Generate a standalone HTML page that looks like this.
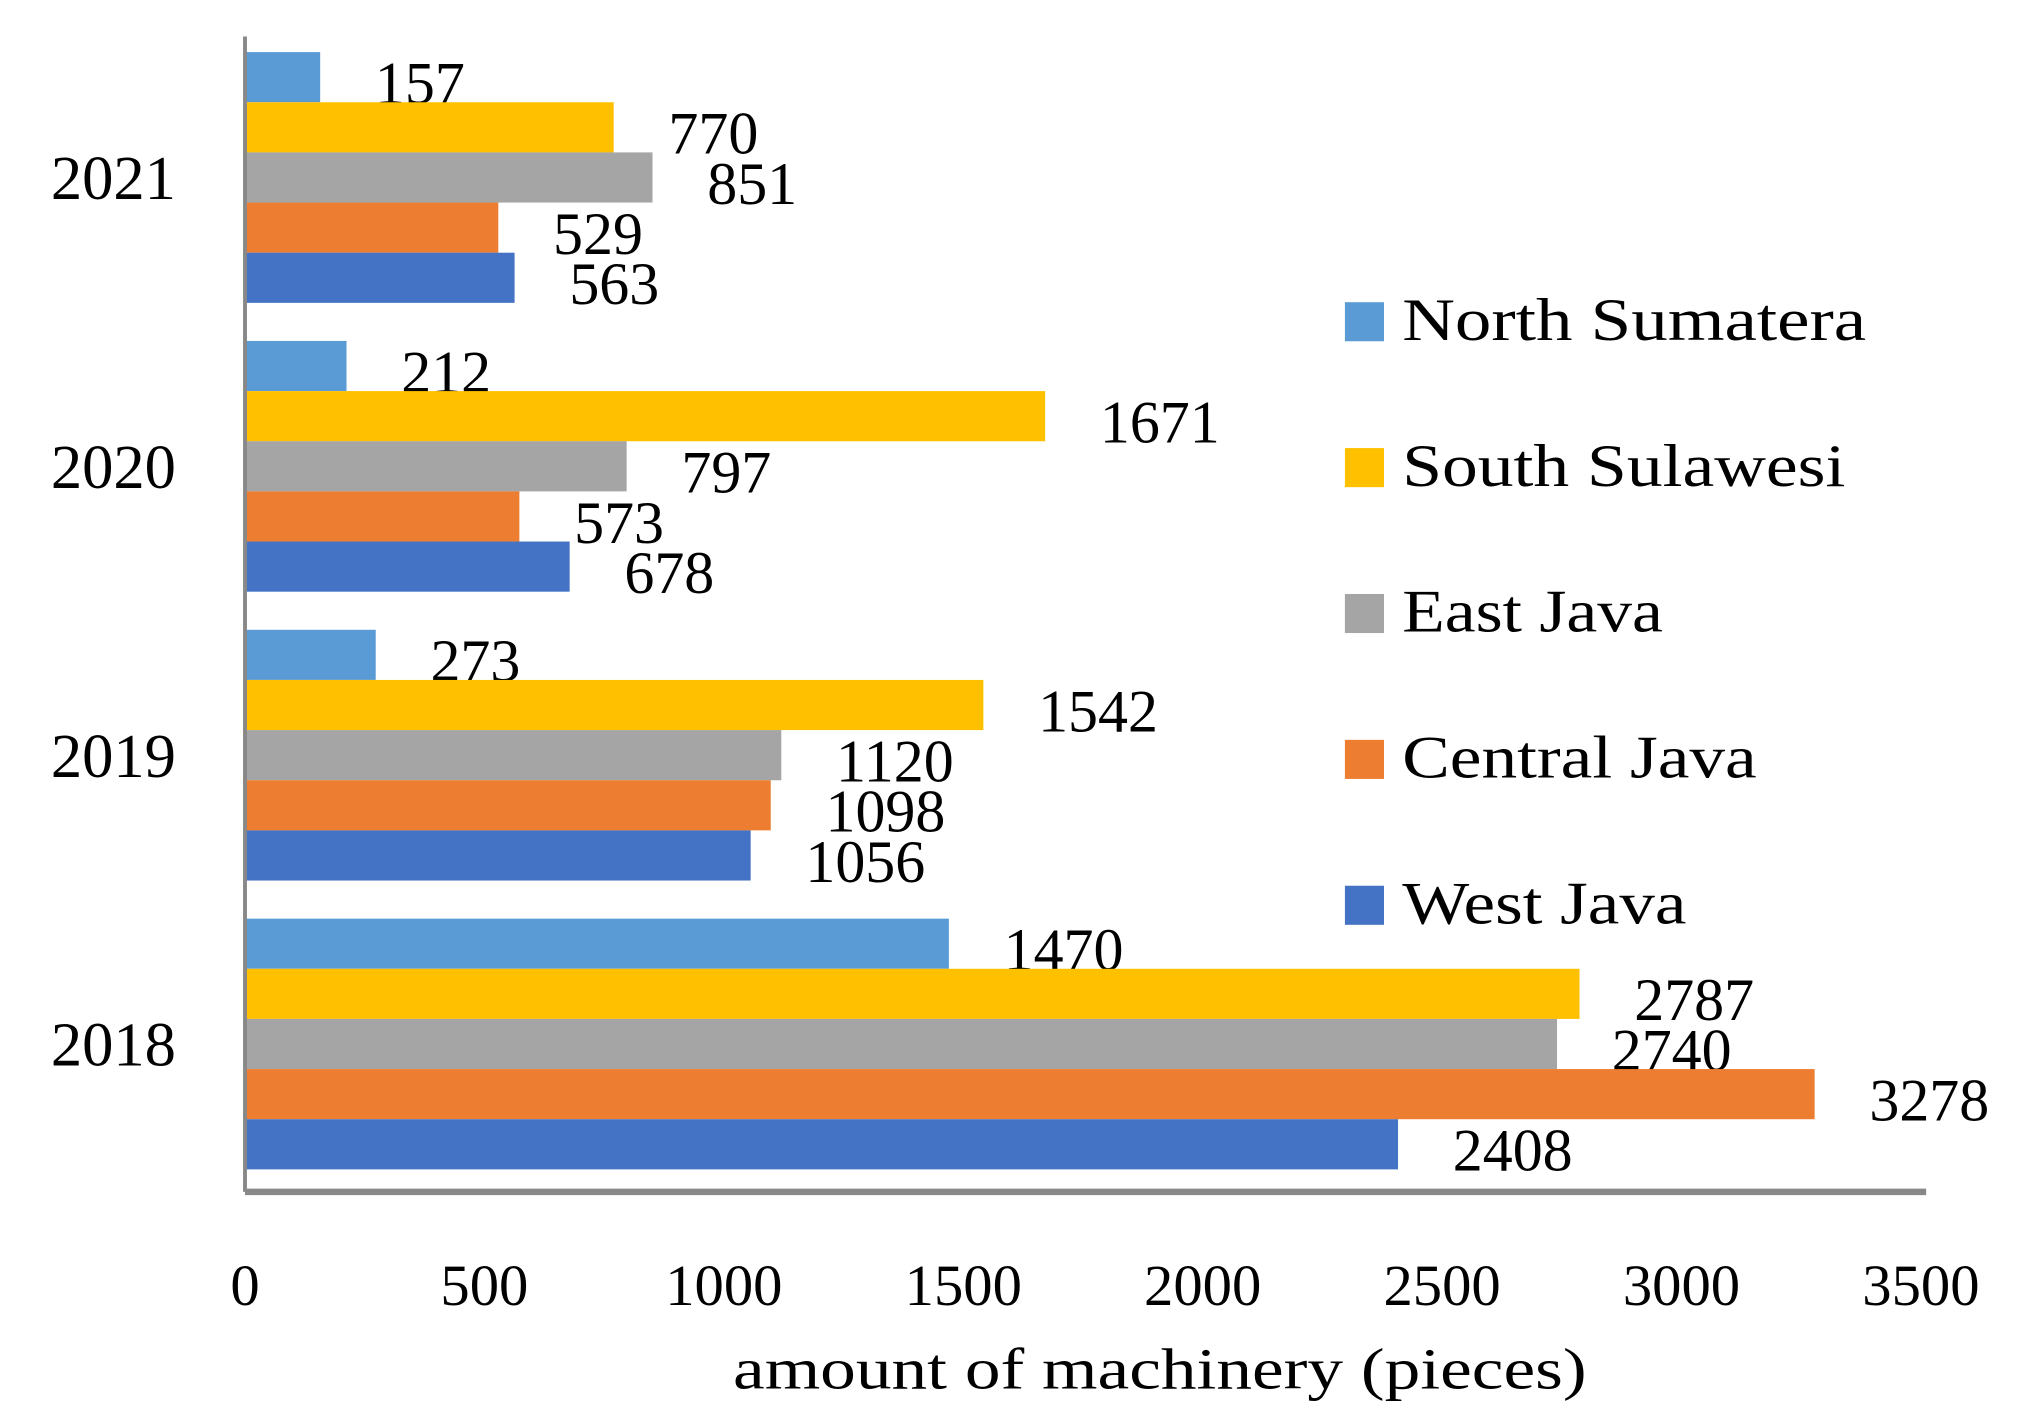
<!DOCTYPE html>
<html><head><meta charset="utf-8"><style>
html,body{margin:0;padding:0;background:#fff;}
svg{display:block;font-family:"Liberation Serif",serif;}
</style></head><body>
<svg id="chart" width="2033" height="1425" viewBox="0 0 1560 1094" preserveAspectRatio="none" xmlns="http://www.w3.org/2000/svg"></svg>
<script>
const categories = ["2021","2020","2019","2018"];
const seriesNames = ["North Sumatera","South Sulawesi","East Java","Central Java","West Java"];
const northSumatera = [157,212,273,1470];
const southSulawesi = [770,1671,1542,2787];
const eastJava = [851,797,1120,2740];
const centralJava = [529,573,1098,3278];
const westJava = [563,678,1056,2408];
const xTicks = [0,500,1000,1500,2000,2500,3000,3500];
const seriesValues = [northSumatera,southSulawesi,eastJava,centralJava,westJava];
const colors = ["#5B9BD5","#FFC000","#A5A5A5","#ED7D31","#4472C4"];
const NS="http://www.w3.org/2000/svg";
const svg=document.getElementById('chart');
const x0=188,x1=1474,yTop=28,yBot=915;
const xMax=3500;
function xs(v){return x0+(x1-x0)*v/xMax;}
const band=(yBot-yTop)/categories.length;
const barH=38.5;
function mk(t,a,p){const e=document.createElementNS(NS,t);for(const k in a)e.setAttribute(k,a[k]);(p||svg).appendChild(e);return e;}
categories.forEach((c,i)=>{
  const g=mk('g',{});
  
  
  const top=yTop+band*i+12;
  seriesValues.forEach((arr,s)=>{
    const v=arr[i];
    const y=top+barH*s;
    const r=mk('rect',{x:x0,y:y,width:xs(v)-x0,height:barH,fill:colors[s]},g);
    
    
    const t=mk('text',{x:xs(v)+42,y:y+barH+1,'font-size':46,fill:'#000'},g);
    t.textContent=v;
    
    
  });
  const l=mk('text',{x:135,y:top+band/2-12+14,'font-size':48,'text-anchor':'end',fill:'#000'});
  l.textContent=c;
  
  
});
const ya=mk('line',{x1:x0,y1:yTop,x2:x0,y2:yBot,stroke:'#888',"stroke-width":3});


const xa=mk('line',{x1:x0,y1:yBot,x2:x1+4,y2:yBot,stroke:'#888',"stroke-width":5});


xTicks.forEach(v=>{
  const t=mk('text',{x:xs(v),y:1002,'font-size':45,'text-anchor':'middle',fill:'#000'});
  t.textContent=v;
  
  
});
const at=mk('text',{x:890,y:1066,'font-size':45,'text-anchor':'middle',fill:'#000',textLength:655,lengthAdjust:'spacingAndGlyphs'});
at.textContent='amount of machinery (pieces)';


const legW=[356,340,200,272,218];
seriesNames.forEach((n,s)=>{
  const g=mk('g',{});
  
  
  const y=232+112*s;
  mk('rect',{x:1032,y:y,width:30,height:30,fill:colors[s]},g);
  const t=mk('text',{x:1076,y:y+29,'font-size':46,fill:'#000',textLength:legW[s],lengthAdjust:'spacingAndGlyphs'},g);
  t.textContent=n;
});
</script>
</body></html>
